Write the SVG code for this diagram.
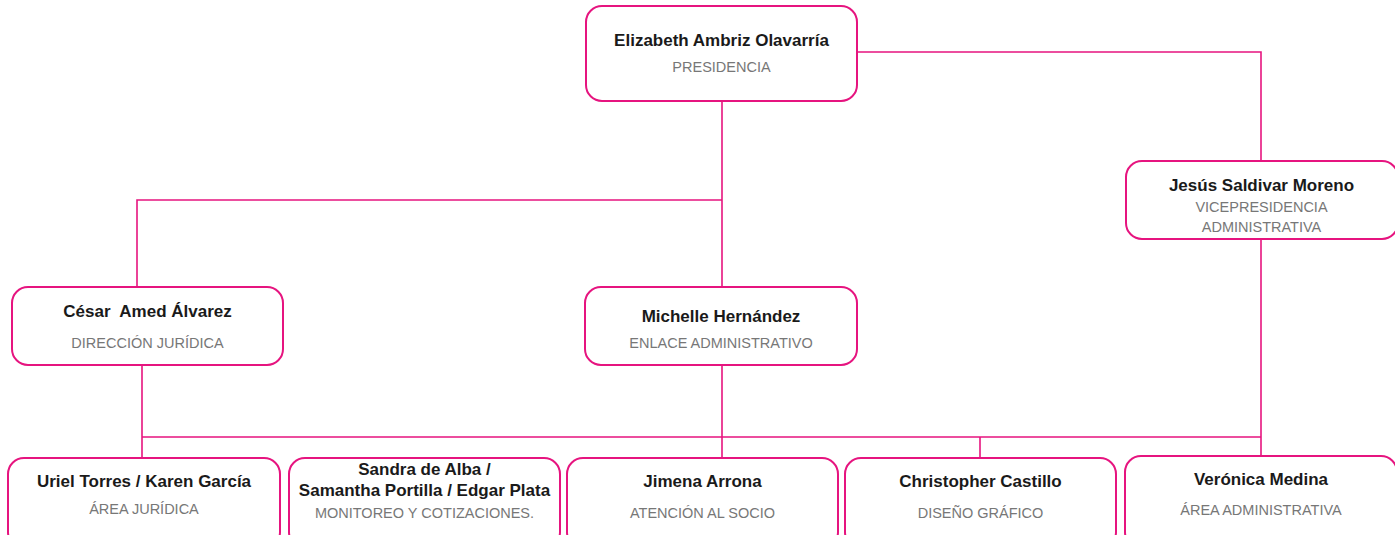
<svg xmlns="http://www.w3.org/2000/svg" width="1395" height="535" viewBox="0 0 1395 535">
<style>
.box{fill:#fff;stroke:#e6147f;stroke-width:2}
.ln{fill:none;stroke:#e6147f;stroke-width:1.6}
.nm{font-family:"Liberation Sans",Arial,sans-serif;font-weight:bold;font-size:17px;fill:#1a1a1a;text-anchor:middle;white-space:pre}
.rl{font-family:"Liberation Sans",Arial,sans-serif;font-size:14.5px;fill:#777;text-anchor:middle}
</style>
<rect width="1395" height="535" fill="#fff"/>
<g id="connectors">
<path class="ln" d="M722 101V287M722 200H137V287M857 52H1261V161M1261 239V456M142 365V458M142 437H1261M722 365V458M980 437V458"/>
</g>
<g id="presidencia"><rect class="box" x="586" y="6" width="271" height="95" rx="16"/><text class="nm" x="721.5" y="46">Elizabeth Ambriz Olavarría</text><text class="rl" x="721.5" y="72">PRESIDENCIA</text></g>
<g id="vicepresidencia"><rect class="box" x="1126" y="161" width="272" height="78" rx="16"/><text class="nm" x="1261.5" y="191">Jesús Saldivar Moreno</text><text class="rl" x="1261.5" y="212">VICEPRESIDENCIA</text><text class="rl" x="1261.5" y="232">ADMINISTRATIVA</text></g>
<g id="juridica"><rect class="box" x="12" y="287" width="271" height="78" rx="16"/><text class="nm" x="147.5" y="317" xml:space="preserve">César  Amed Álvarez</text><text class="rl" x="147.5" y="348">DIRECCIÓN JURÍDICA</text></g>
<g id="enlace"><rect class="box" x="585" y="287" width="272" height="78" rx="16"/><text class="nm" x="721" y="322">Michelle Hernández</text><text class="rl" x="721" y="348">ENLACE ADMINISTRATIVO</text></g>
<g id="area-juridica"><rect class="box" x="8" y="458" width="272" height="90" rx="16"/><text class="nm" x="144" y="487">Uriel Torres / Karen García</text><text class="rl" x="144" y="514">ÁREA JURÍDICA</text></g>
<g id="monitoreo"><rect class="box" x="289" y="458" width="271" height="90" rx="16"/><text class="nm" x="424.5" y="475">Sandra de Alba /</text><text class="nm" x="424.5" y="496">Samantha Portilla / Edgar Plata</text><text class="rl" x="424.5" y="518">MONITOREO Y COTIZACIONES.</text></g>
<g id="atencion"><rect class="box" x="567" y="458" width="271" height="90" rx="16"/><text class="nm" x="702.5" y="487">Jimena Arrona</text><text class="rl" x="702.5" y="518">ATENCIÓN AL SOCIO</text></g>
<g id="diseno"><rect class="box" x="845" y="458" width="271" height="90" rx="16"/><text class="nm" x="980.5" y="487">Christopher Castillo</text><text class="rl" x="980.5" y="518">DISEÑO GRÁFICO</text></g>
<g id="administrativa"><rect class="box" x="1125" y="456" width="272" height="92" rx="16"/><text class="nm" x="1261" y="485">Verónica Medina</text><text class="rl" x="1261" y="515">ÁREA ADMINISTRATIVA</text></g>
</svg>
